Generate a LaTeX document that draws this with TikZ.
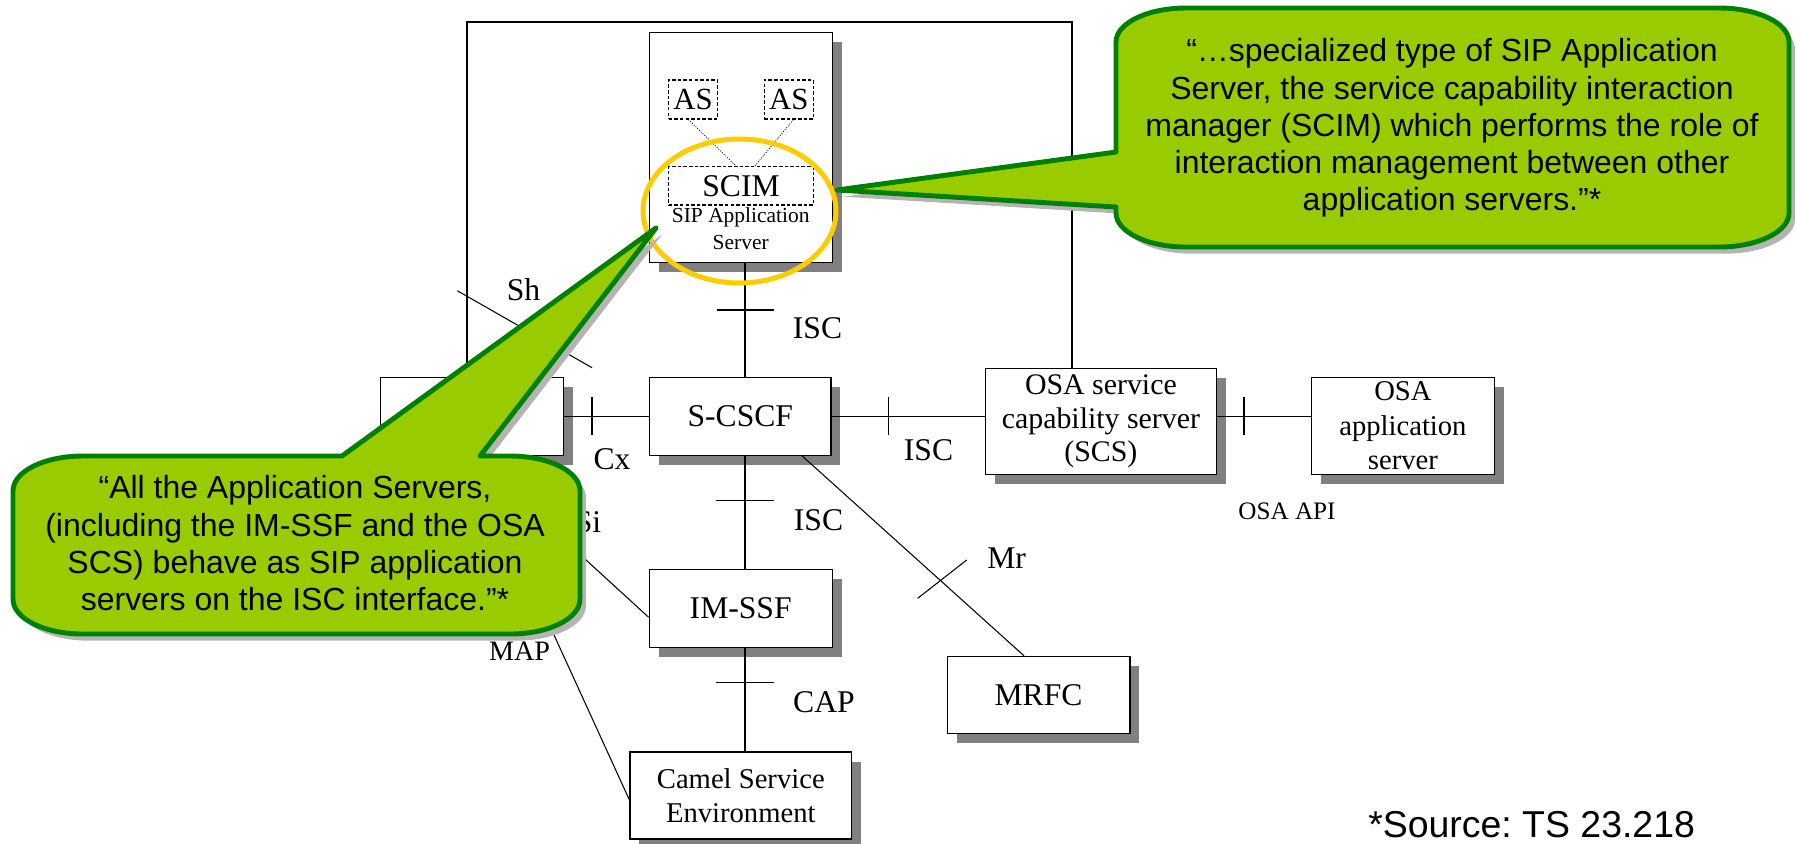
\documentclass[tikz,border=0pt]{standalone}
\usepackage{fontspec}
\setmainfont{Liberation Serif}
\newfontfamily\quotefont{Liberation Sans}
\usetikzlibrary{shadows}
\frenchspacing

\definecolor{boxshade}{RGB}{128,128,128}
\definecolor{quotegreen}{RGB}{153,204,0}
\definecolor{quoterim}{RGB}{0,128,0}
\definecolor{quoteshade}{RGB}{180,180,180}
\definecolor{ringgold}{RGB}{255,204,0}

\tikzset{
  netbox/.style={draw, line width=0.6pt, fill=white, inner sep=0pt, align=center,
    font=\fontsize{18}{19}\selectfont,
    drop shadow={shadow xshift=5.4pt, shadow yshift=-5.4pt, fill=boxshade, opacity=1}},
  dashbox/.style={draw, dash pattern=on 2pt off 1.2pt, line width=0.8pt, inner sep=0pt,
    font=\fontsize{18}{19}\selectfont},
  iface/.style={inner sep=0pt, font=\fontsize{18}{19}\selectfont},
  link/.style={line width=0.6pt},
  dotlink/.style={line width=0.4pt, dash pattern=on 0.6pt off 0.8pt},
  quotebox/.style={fill=quotegreen, draw=quoterim, line width=2.8pt, line join=round,
    drop shadow={shadow xshift=3.4pt, shadow yshift=-3.8pt, fill=quoteshade, opacity=1}},
  quotetext/.style={align=center, inner sep=0pt,
    font=\quotefont\fontsize{18.2}{21.2}\selectfont}
}

\begin{document}
\begin{tikzpicture}[x=0.02cm, y=-0.02cm]
\useasboundingbox (0,0) rectangle (1796,843);

% network elements
\node[netbox, minimum width=3.654cm, minimum height=4.606cm] (sipas) at (740.7,147.2) {};
\node[dashbox, minimum width=0.972cm, minimum height=0.78cm, font=\fontsize{17.5}{18}\selectfont] (as1) at (693,99.5) {AS};
\node[dashbox, minimum width=0.98cm, minimum height=0.78cm, font=\fontsize{17.5}{18}\selectfont] (as2) at (788.8,99.5) {AS};
\node[dashbox, minimum width=2.892cm, minimum height=0.766cm] (scim) at (741,185.8) {SCIM};
\node[iface, align=center, font=\fontsize{12.2}{15.2}\selectfont] (sipname) at (740.7,228.6) {SIP Application\\Server};
\node[netbox, minimum width=3.652cm, minimum height=1.546cm] (hss) at (472,416.4) {};
\node[netbox, minimum width=3.628cm, minimum height=1.546cm] (scscf) at (740.3,416.4) {S-CSCF};
\node[netbox, minimum width=4.606cm, minimum height=2.12cm, font=\fontsize{17}{19}\selectfont] (scs) at (1100.9,421.3) {OSA service\\capability server\\(SCS)};
\node[netbox, minimum width=3.646cm, minimum height=1.94cm, font=\fontsize{16.3}{19.6}\selectfont] (osaas) at (1402.9,425.8) {OSA\\application\\server};
\node[netbox, minimum width=3.666cm, minimum height=1.554cm] (imssf) at (740.7,608.2) {IM-SSF};
\node[netbox, minimum width=3.66cm, minimum height=1.54cm] (mrfc) at (1038.5,694.8) {MRFC};
\node[netbox, minimum width=4.434cm, minimum height=1.74cm, font=\fontsize{16.3}{19}\selectfont] (camel) at (740.8,795.5) {Camel Service\\Environment};

% interface names
\node[iface] (shname) at (523.5,290) {Sh};
\node[iface] (iscup) at (817.5,328) {ISC};
\node[iface] (cxname) at (612,459.5) {Cx};
\node[iface] (iscright) at (928.5,450) {ISC};
\node[iface] (iscdown) at (818.5,520) {ISC};
\node[iface] (siname) at (588,521.7) {Si};
\node[iface] (mrname) at (1006.7,558.3) {Mr};
\node[iface] (capname) at (824,701.7) {CAP};
\node[iface, font=\fontsize{16}{17}\selectfont] (mapname) at (519.5,651.7) {MAP};
\node[iface, font=\fontsize{14.3}{15}\selectfont] (apiname) at (1287,511.7) {OSA API};

% connectors
\coordinate (bus) at (745,0);
\coordinate (shl) at (467,22);
\coordinate (shr) at (1072,22);
\draw[link] (hss.north -| shl) -- (shl) -- (shr) -- (scs.north -| shr);
\draw[link] (sipas.south -| bus) to (scscf.north -| bus);
\draw[link] (scscf.south -| bus) to (imssf.north -| bus);
\draw[link] (imssf.south -| bus) to (camel.north -| bus);
\draw[link] (hss) to (scscf);
\draw[link] (scscf.east) to (scscf.east -| scs.west);
\draw[link] (scscf.east -| scs.east) to (scscf.east -| osaas.west);
\draw[link] ([xshift=1.23cm]scscf.south) to ([xshift=-0.29cm]mrfc.north);
\draw[link] (hss.south) to ([yshift=-0.18cm]imssf.west);
\draw[link] (hss.south) to ([yshift=-0.09cm]camel.west);
\draw[dotlink] ([xshift=-0.09cm]as1.south) to ([xshift=-0.1cm]scim.north);
\draw[dotlink] ([xshift=0.09cm]as2.south) to ([xshift=0.28cm]scim.north);

% interface marks
\draw[link] (716.5,310) -- (773.5,310);
\draw[link] (716,500.7) -- (774,500.7);
\draw[link] (716,682.7) -- (774,682.7);
\draw[link] (592,397) -- (592,435);
\draw[link] (888.5,397) -- (888.5,435);
\draw[link] (1244,397) -- (1244,435);
\draw[link] (917.7,598.3) -- (966.7,560);
\draw[link] (457.3,290.7) -- (592,367.7);

% highlight
\draw[ringgold, line width=2.85pt] (739.5,211) ellipse [x radius=1.93cm, y radius=1.44cm];

% quotes
\path[quotebox] (1186,8) -- (1719,8) .. controls (1757.6,8) and (1789,23.2) .. (1789,42)
  -- (1789,213) .. controls (1789,231.8) and (1757.6,247) .. (1719,247)
  -- (1186,247) .. controls (1147.4,247) and (1116,231.8) .. (1116,213)
  -- (1116,207) -- (837,190) -- (1116,152)
  -- (1116,42) .. controls (1116,23.2) and (1147.4,8) .. (1186,8) -- cycle;
\node[quotetext] (scimquote) at (1452,128) {“…specialized type of SIP Application\\Server, the service capability interaction\\manager (SCIM) which performs the role of\\interaction management between other\\application servers.”*};

\path[quotebox] (83,456) -- (342,456) -- (656,228) -- (480,456) -- (510,456)
  .. controls (548.6,456) and (580,471.3) .. (580,491)
  -- (580,599) .. controls (580,618.7) and (548.6,634) .. (510,634)
  -- (83,634) .. controls (44.4,634) and (13,618.7) .. (13,599)
  -- (13,491) .. controls (13,471.3) and (44.4,456) .. (83,456) -- cycle;
\node[quotetext] (asquote) at (295,543.2) {“All the Application Servers,\\(including the IM-SSF and the OSA\\SCS) behave as SIP application\\servers on the ISC interface.”*};

\node[inner sep=0pt, anchor=base west, font=\quotefont\fontsize{21.3}{22}\selectfont] (source) at (1368,837) {*Source: TS 23.218};
\end{tikzpicture}
\end{document}
